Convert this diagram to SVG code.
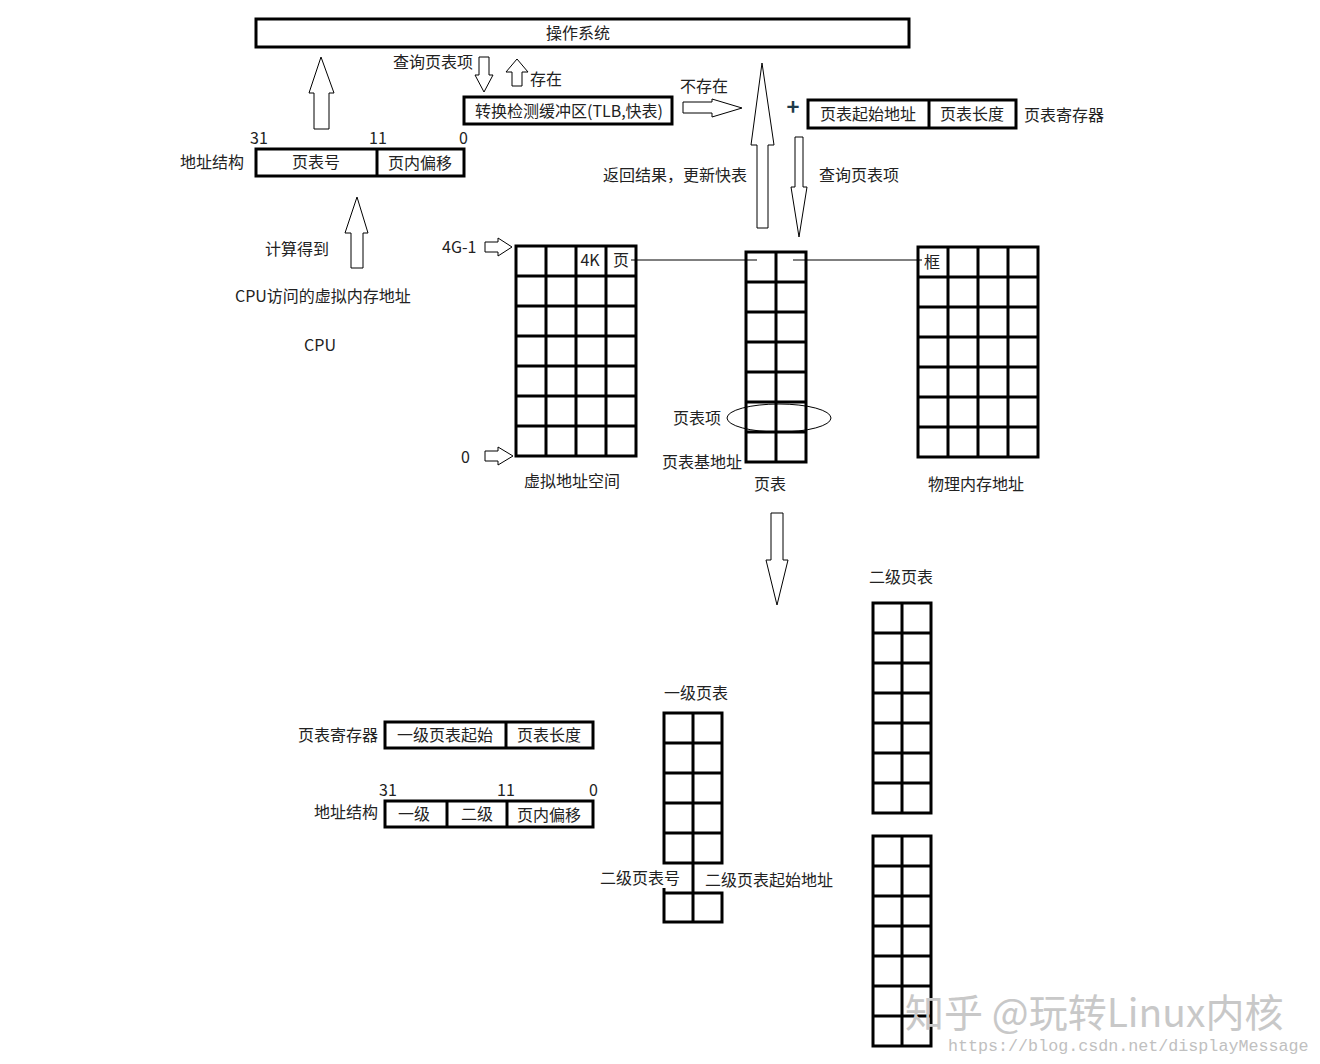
<svg xmlns="http://www.w3.org/2000/svg" width="1320" height="1064" viewBox="0 0 1320 1064">
<style>
text{font-family:"Noto Sans CJK SC","Noto Sans",sans-serif;font-size:16px;fill:#222}
.m{text-anchor:middle}
.box{fill:#fff;stroke:#000;stroke-width:3}
.grid{fill:none;stroke:#000;stroke-width:3}
.arr{fill:#fff;stroke:#000;stroke-width:1;stroke-linejoin:miter}
.ln{fill:none;stroke:#000;stroke-width:1}
.wm{font-size:39px;fill:#c8c8c8}
.url{font-family:"Liberation Mono",monospace;font-size:16.7px;fill:#c0c0c0}
</style>
<rect width="1320" height="1064" fill="#fff"/>

<g id="os">
<rect class="box" x="256" y="19" width="653" height="28"/>
<text class="m" x="578" y="39">操作系统</text>
</g>

<g id="addr1">
<rect class="box" x="256" y="149" width="208" height="27"/>
<line class="grid" x1="377" y1="149" x2="377" y2="176"/>
<text class="m" x="316" y="168">页表号</text>
<text class="m" x="420" y="169">页内偏移</text>
<text x="180" y="168">地址结构</text>
<text x="250" y="144">31</text>
<text x="369" y="144">11</text>
<text x="459" y="144">0</text>
</g>

<g id="tlb">
<rect class="box" x="464" y="97" width="208" height="27"/>
<text class="m" x="569" y="117">转换检测缓冲区(TLB,快表)</text>
</g>

<g id="ptreg">
<rect class="box" x="808" y="100" width="208" height="28"/>
<line class="grid" x1="929" y1="100" x2="929" y2="128"/>
<text class="m" x="868" y="120">页表起始地址</text>
<text class="m" x="972" y="120">页表长度</text>
<text x="1024" y="121">页表寄存器</text>
<text x="793" y="115" text-anchor="middle" style="font-size:22px;fill:#1e3a4a;font-weight:bold">+</text>
</g>

<g id="cpu">
<text x="265" y="255">计算得到</text>
<text x="235" y="302">CPU访问的虚拟内存地址</text>
<text class="m" x="320" y="351">CPU</text>
</g>

<g id="vspace">
<path class="grid" d="M516,246H636V456H516Z M546,246V456 M576,246V456 M606,246V456 M516,276H636 M516,306H636 M516,336H636 M516,366H636 M516,396H636 M516,426H636"/>
<text class="m" x="590" y="266">4K</text>
<text class="m" x="621" y="266">页</text>
<text x="442" y="253">4G-1</text>
<text x="461" y="463">0</text>
<text class="m" x="572" y="487">虚拟地址空间</text>
</g>

<g id="pagetable">
<path class="grid" d="M746,252H806V462H746Z M776,252V462 M746,282H806 M746,312H806 M746,342H806 M746,372H806 M746,402H806 M746,432H806"/>
<ellipse cx="779" cy="418" rx="52" ry="14" fill="none" stroke="#000" stroke-width="1"/>
<text x="673" y="424">页表项</text>
<text x="662" y="468">页表基地址</text>
<text class="m" x="770" y="490">页表</text>
</g>

<g id="physmem">
<path class="grid" d="M918,247H1038V457H918Z M948,247V457 M978,247V457 M1008,247V457 M918,277H1038 M918,307H1038 M918,337H1038 M918,367H1038 M918,397H1038 M918,427H1038"/>
<text x="924" y="268">框</text>
<text class="m" x="976" y="490">物理内存地址</text>
</g>

<g id="reg2">
<rect class="box" x="385" y="722" width="208" height="26"/>
<line class="grid" x1="506" y1="722" x2="506" y2="748"/>
<text class="m" x="445" y="741">一级页表起始</text>
<text class="m" x="549" y="741">页表长度</text>
<text x="298" y="741">页表寄存器</text>
</g>

<g id="addr2">
<rect class="box" x="385" y="801" width="208" height="26"/>
<line class="grid" x1="447" y1="801" x2="447" y2="827"/>
<line class="grid" x1="507" y1="801" x2="507" y2="827"/>
<text class="m" x="414" y="820">一级</text>
<text class="m" x="477" y="820">二级</text>
<text class="m" x="549" y="821">页内偏移</text>
<text x="314" y="818">地址结构</text>
<text x="379" y="796">31</text>
<text x="497" y="796">11</text>
<text x="589" y="796">0</text>
</g>

<g id="level1">
<path class="grid" d="M664,713H722V863H664Z M693,713V923 M664,743H722 M664,773H722 M664,803H722 M664,833H722 M664,893H722V922H664Z M664,888V893"/>
<text x="664" y="699">一级页表</text>
<text x="600" y="884">二级页表号</text>
<text x="705" y="886">二级页表起始地址</text>
</g>

<g id="level2a">
<path class="grid" d="M873,603H931V813H873Z M902,603V813 M873,633H931 M873,663H931 M873,693H931 M873,723H931 M873,753H931 M873,783H931"/>
<text x="869" y="583">二级页表</text>
</g>

<g id="level2b">
<path class="grid" d="M873,836H931V1046H873Z M902,836V1046 M873,866H931 M873,896H931 M873,926H931 M873,956H931 M873,986H931 M873,1016H931"/>
</g>

<g id="connectors">
<polygon class="arr" points="314,129 329,129 329,93 334,93 321,57 309,93 314,93"/>
<polygon class="arr" points="479,57 489,57 489,75 493,75 484,92 475,75 479,75"/>
<text x="393" y="68">查询页表项</text>
<polygon class="arr" points="512,86 522,86 522,72 528,72 517,59 506,72 512,72"/>
<text x="530" y="85">存在</text>
<polygon class="arr" points="683,102 712,102 712,99 742,108 712,117 712,113 683,113"/>
<text x="680" y="92">不存在</text>
<polygon class="arr" points="757,228 768,228 768,145 774,145 762,63 751,145 757,145"/>
<text x="603" y="181">返回结果，更新快表</text>
<polygon class="arr" points="795,137 803,137 803,187 807,187 799,237 791,187 795,187"/>
<text x="819" y="181">查询页表项</text>
<polygon class="arr" points="351,268 363,268 363,233 368,233 357,197 345,233 351,233"/>
<polygon class="arr" points="485,242 498,242 498,238 512,247 498,256 498,252 485,252"/>
<polygon class="arr" points="485,451 498,451 498,447 513,456 498,465 498,461 485,461"/>
<line class="ln" x1="631" y1="260" x2="757" y2="260"/>
<line class="ln" x1="793" y1="260" x2="922" y2="260"/>
<polygon class="arr" points="771,513 783,513 783,560 788,560 777,605 766,560 771,560"/>
</g>

<g id="watermark">
<text class="wm" x="905" y="1027">知乎 @玩转Linux内核</text>
<text class="url" x="948" y="1051">https://blog.csdn.net/displayMessage</text>
</g>
</svg>
